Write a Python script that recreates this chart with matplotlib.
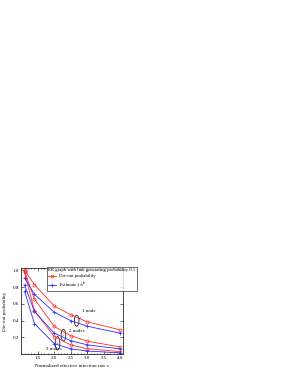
import numpy as np
import matplotlib
matplotlib.use("Agg")
import matplotlib.pyplot as plt
from matplotlib.patches import Ellipse

plt.rcParams['font.family'] = ['Liberation Serif', 'DejaVu Serif']

# normalized effective infection rate
s = [1.1, 1.4, 2.0, 2.5, 3.0, 4.0]

# die-out probability (simulation), 1, 2, 3 initial nodes
red1 = [1.0, 0.83, 0.575, 0.47, 0.385, 0.29]
red2 = [0.99, 0.66, 0.33, 0.22, 0.155, 0.085]
red3 = [0.98, 0.52, 0.21, 0.11, 0.065, 0.03]

# estimate 1/s^k
k_list = [1, 2, 3]

xticks = [1.5, 2.0, 2.5, 3.0, 3.5, 4.0]
yticks = [0.2, 0.4, 0.6, 0.8, 1.0]

fs = 3.6
red = '#ff2a2a'
blue = '#2a2aff'

fig = plt.figure(figsize=(2.87, 3.72), dpi=100)
ax = fig.add_axes([0.074, 0.048, 0.353, 0.232])

for i, r in enumerate([red1, red2, red3]):
    ax.plot(s, r, color=red, lw=0.6, marker='o', ms=2.2, mfc='none', mew=0.5,
            label='Die-out probability' if i == 0 else None)
for i, k in enumerate(k_list):
    est = [1.0 / v ** k for v in s]
    ax.plot(s, est, color=blue, lw=0.6, marker='+', ms=2.5, mew=0.5,
            label='Estimate 1/s$^k$' if i == 0 else None)

ax.set_xlim(1.0, 4.07)
ax.set_ylim(0, 1.03)
ax.set_xticks(xticks)
ax.set_xticklabels(['%.1f' % v for v in xticks])
ax.set_yticks(yticks)
ax.set_yticklabels(['%.1f' % v for v in yticks])
ax.set_xticks(np.arange(1.0, 4.05, 0.1), minor=True)
ax.tick_params(which='both', direction='in', top=True, right=True,
               labelsize=fs, width=0.4, pad=1.5)
ax.tick_params(which='major', length=2)
ax.tick_params(which='minor', length=1)
for sp in ax.spines.values():
    sp.set_linewidth(0.5)

ax.set_xlabel('Normalized effective infection rate s', fontsize=fs, labelpad=3)
ax.set_ylabel('Die-out probability', fontsize=fs, labelpad=4)

# annotations
ann = [('1 node', (2.68, 0.40), 0.13, (2.85, 0.50)),
       ('2 nodes', (2.28, 0.225), 0.14, (2.45, 0.26)),
       ('3 nodes', (2.10, 0.13), 0.16, (1.75, 0.055))]
for txt, c, h, tp in ann:
    ax.add_patch(Ellipse(c, 0.14, h, fill=False, lw=0.5, ec='black'))
    ax.annotate(txt, xy=c, xytext=tp, fontsize=fs,
                arrowprops=dict(arrowstyle='-', lw=0.4, color='black'))

lfs = 3.4
leg = ax.legend(loc='upper left', bbox_to_anchor=(0.25, 1.012),
                title='ER graph with link generating probability 0.1',
                fontsize=lfs, title_fontsize=lfs, frameon=True, fancybox=False,
                edgecolor='black', borderpad=0.3, handlelength=1.8,
                handletextpad=0.5, labelspacing=0.35, borderaxespad=0)
leg._legend_box.align = 'left'
leg.get_frame().set_linewidth(0.5)

fig.savefig('out.png', dpi=100)
